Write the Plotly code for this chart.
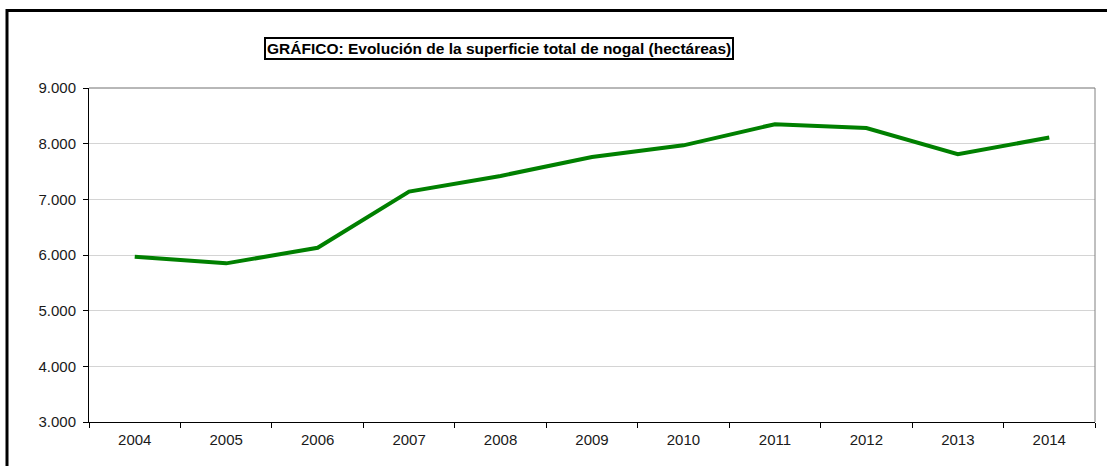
import plotly.graph_objects as go

years = ["2004", "2005", "2006", "2007", "2008", "2009", "2010", "2011", "2012", "2013", "2014"]
hectares = [5970, 5850, 6130, 7140, 7420, 7760, 7970, 8350, 8280, 7810, 8110]
y_ticks = [3000, 4000, 5000, 6000, 7000, 8000, 9000]
title_text = "GRÁFICO: Evolución de la superficie total de nogal (hectáreas)"

W, H = 1107, 466
L, R, T, B = 89, 12, 88, 44
pw = W - L - R
ph = H - T - B

def px(x):
    return (x - L) / pw

def py(y):
    return (H - B - y) / ph

fig = go.Figure()
fig.add_trace(go.Scatter(
    x=years, y=hectares, mode="lines",
    line=dict(color="#008000", width=4),
    showlegend=False, hoverinfo="x+y",
))

font = "Liberation Sans, Arial, sans-serif"

fig.update_layout(
    width=W, height=H,
    margin=dict(l=L, r=R, t=T, b=B),
    paper_bgcolor="white", plot_bgcolor="white",
    separators=",.",
    font=dict(family=font, size=15, color="#1a1a1a"),
    xaxis=dict(
        type="category", tickson="boundaries", ticks="outside", ticklen=5,
        tickcolor="black", showline=True, linecolor="black", linewidth=1,
        showgrid=False, range=[-0.5, 10.5], zeroline=False,
        ticklabelstandoff=4,
        tickfont=dict(family=font, size=15, color="#1a1a1a"),
    ),
    yaxis=dict(
        range=[3000, 9000], tickvals=y_ticks, tickformat=",d",
        ticks="outside", ticklen=5, tickcolor="black",
        showline=True, linecolor="black", linewidth=1,
        showgrid=True, gridcolor="#d4d4d4", gridwidth=1, zeroline=False,
        ticklabelstandoff=4,
        tickfont=dict(family=font, size=15, color="#1a1a1a"),
    ),
    shapes=[
        # plot area top/right border
        dict(type="line", xref="paper", yref="paper", x0=0, x1=1, y0=1, y1=1,
             line=dict(color="#707070", width=1)),
        dict(type="line", xref="paper", yref="paper", x0=1, x1=1, y0=0, y1=1,
             line=dict(color="#808080", width=1)),
        # outer frame (top and left)
        dict(type="line", xref="paper", yref="paper", x0=px(7), x1=px(W + 5),
             y0=py(10.5), y1=py(10.5), line=dict(color="black", width=3)),
        dict(type="line", xref="paper", yref="paper", x0=px(7), x1=px(7),
             y0=py(9), y1=py(H + 5), line=dict(color="black", width=3)),
    ],
    annotations=[
        dict(text="<b>" + title_text + "</b>", xref="paper", yref="paper",
             x=px(499), y=py(48.5), xanchor="center", yanchor="middle",
             showarrow=False, font=dict(family=font, size=15.5, color="black"),
             bordercolor="black", borderwidth=2, borderpad=1, bgcolor="white"),
    ],
)

fig.write_html("out.html", config={"displayModeBar": False},
               post_script="document.body.style.margin='0';")
